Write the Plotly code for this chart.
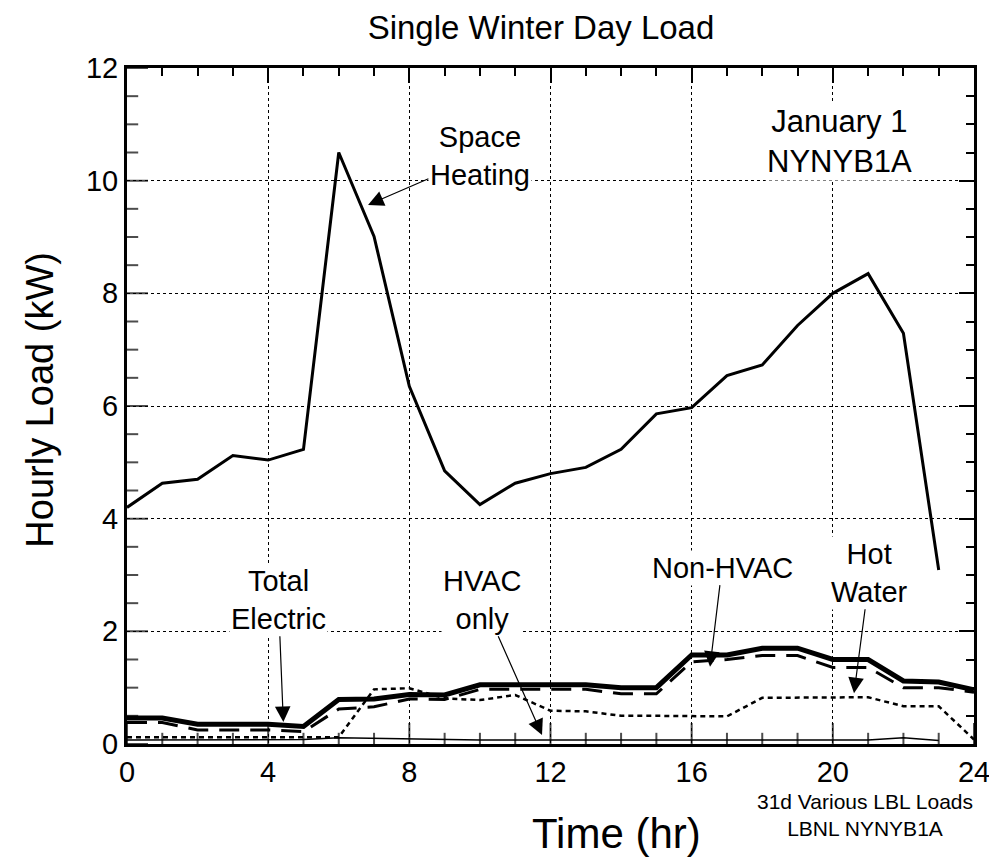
import plotly.graph_objects as go

hours = list(range(25))

space_heating = [4.20, 4.63, 4.70, 5.12, 5.04, 5.23, 10.50, 9.01, 6.35, 4.85, 4.25, 4.63,
                 4.80, 4.91, 5.23, 5.86, 5.97, 6.54, 6.73, 7.43, 8.00, 8.35, 7.29, 3.09]
total_electric = [0.46, 0.46, 0.35, 0.35, 0.35, 0.31, 0.79, 0.80, 0.88, 0.87, 1.05, 1.05,
                  1.05, 1.05, 1.00, 1.00, 1.58, 1.58, 1.70, 1.70, 1.50, 1.50, 1.12, 1.10, 0.96]
non_hvac = [0.38, 0.38, 0.25, 0.25, 0.25, 0.22, 0.62, 0.66, 0.80, 0.79, 0.97, 0.97,
            0.97, 0.97, 0.89, 0.89, 1.46, 1.50, 1.57, 1.57, 1.36, 1.36, 1.00, 1.00, 0.92]
hot_water = [0.12, 0.12, 0.12, 0.12, 0.12, 0.12, 0.12, 0.97, 0.99, 0.81, 0.78, 0.87,
             0.59, 0.58, 0.50, 0.50, 0.49, 0.49, 0.82, 0.82, 0.83, 0.83, 0.67, 0.67, 0.08]
hvac_only = [0.07, 0.07, 0.07, 0.07, 0.07, 0.08, 0.11, 0.10, 0.08, 0.07, 0.07, 0.07,
             0.07, 0.07, 0.07, 0.07, 0.07, 0.07, 0.07, 0.07, 0.07, 0.07, 0.11, 0.06]

x_ticks = [0, 4, 8, 12, 16, 20, 24]
y_ticks = [0, 2, 4, 6, 8, 10, 12]
x_minor = [h for h in range(0, 25) if h not in x_ticks]
y_minor = [v / 2 for v in range(0, 25) if v % 4 != 0]

FONT = "Liberation Sans, Arial, Helvetica, sans-serif"
TICK_COLOR = "black"

fig = go.Figure()
fig.add_trace(go.Scatter(x=hours[:len(hot_water)], y=hot_water, mode="lines",
                         line=dict(color="black", width=2.5, dash="5px,4px"), name="Hot Water"))
fig.add_trace(go.Scatter(x=hours[:len(hvac_only)], y=hvac_only, mode="lines",
                         line=dict(color="black", width=1.5), name="HVAC only"))
fig.add_trace(go.Scatter(x=hours[:len(non_hvac)], y=non_hvac, mode="lines",
                         line=dict(color="black", width=3, dash="20px,11px"), name="Non-HVAC"))
fig.add_trace(go.Scatter(x=hours[:len(total_electric)], y=total_electric, mode="lines",
                         line=dict(color="black", width=5), name="Total Electric"))
fig.add_trace(go.Scatter(x=hours[:len(space_heating)], y=space_heating, mode="lines",
                         line=dict(color="black", width=3), name="Space Heating"))
# invisible trace tying the tick-only axes (top / right) to the same scales
fig.add_trace(go.Scatter(x=hours[:len(space_heating)], y=space_heating, mode="lines",
                         line=dict(color="rgba(0,0,0,0)", width=0), xaxis="x2", yaxis="y2",
                         hoverinfo="skip", showlegend=False))

# bottom / left inside ticks: line markers centred on the axis edge, clipped to the plot area
bx = x_ticks + x_minor
fig.add_trace(go.Scatter(x=bx, y=[0] * len(bx), mode="markers", hoverinfo="skip", showlegend=False,
                         cliponaxis=True,
                         marker=dict(symbol="line-ns-open", color=TICK_COLOR,
                                     size=[30 if h in x_ticks else 16 for h in bx],
                                     line=dict(width=2, color=TICK_COLOR))))
ly = y_ticks + y_minor
fig.add_trace(go.Scatter(x=[0] * len(ly), y=ly, mode="markers", hoverinfo="skip", showlegend=False,
                         cliponaxis=True,
                         marker=dict(symbol="line-ew-open", color=TICK_COLOR,
                                     size=[30 if v in y_ticks else 16 for v in ly],
                                     line=dict(width=2, color=TICK_COLOR))))

def tick_axis(rng, vals, dtick):
    return dict(range=rng, tickvals=vals, showticklabels=False, showline=False, showgrid=False,
                zeroline=False, ticks="inside", ticklen=15, tickwidth=2, tickcolor=TICK_COLOR,
                minor=dict(dtick=dtick, ticks="inside", ticklen=8, tickwidth=2,
                           tickcolor=TICK_COLOR, showgrid=False))

fig.update_layout(
    xaxis=dict(range=[0, 24], tickvals=x_ticks, ticktext=[str(v) for v in x_ticks], ticks="",
               showline=True, linecolor="black", linewidth=3, mirror=True, zeroline=False,
               showgrid=True, gridcolor="black", gridwidth=1, griddash="dot",
               tickfont=dict(family=FONT, size=29, color="black")),
    yaxis=dict(range=[0, 12], tickvals=y_ticks, ticktext=[str(v) for v in y_ticks], ticks="",
               showline=True, linecolor="black", linewidth=3, mirror=True, zeroline=False,
               showgrid=True, gridcolor="black", gridwidth=1, griddash="dot",
               tickfont=dict(family=FONT, size=29, color="black")),
    xaxis2=dict(overlaying="x", side="top", **tick_axis([0, 24], x_ticks, 1)),
    yaxis2=dict(overlaying="y", side="right", **tick_axis([0, 12], y_ticks, 0.5)),
)

ann_font = dict(family=FONT, size=29, color="black")
arrow_style = dict(showarrow=True, arrowhead=2, arrowsize=2.6, arrowwidth=1.2, arrowcolor="black",
                   axref="x", ayref="y", bgcolor="white", font=ann_font, borderpad=1)

labels = [
    ("Space<br>Heating", 6.83, 9.57, 10.0, 10.43),
    ("Total<br>Electric", 4.43, 0.39, 4.29, 2.56),
    ("HVAC<br>only", 11.76, 0.16, 10.06, 2.56),
    ("Non-HVAC", 16.52, 1.37, 16.86, 3.13),
    ("Hot<br>Water", 20.6, 0.90, 21.05, 3.04),
]
for text, hx, hy, tx, ty in labels:
    fig.add_annotation(text=text, x=hx, y=hy, ax=tx, ay=ty, **arrow_style)

fig.add_annotation(text="January 1<br>NYNYB1A", x=20.2, y=10.7, showarrow=False,
                   bgcolor="white", font=dict(family=FONT, size=31, color="black"))

fig.add_annotation(text="Time (hr)", xref="paper", yref="paper", x=0.5785, y=-0.132,
                   xanchor="center", yanchor="middle",
                   showarrow=False, font=dict(family=FONT, size=42, color="black"))
fig.add_annotation(text="Hourly Load (kW)", xref="paper", yref="paper", x=-0.103, y=0.509,
                   xanchor="center", yanchor="middle",
                   textangle=-90, showarrow=False, font=dict(family=FONT, size=38, color="black"))
fig.add_annotation(text="31d Various LBL Loads<br>LBNL NYNYB1A", xref="paper", yref="paper",
                   x=0.871, y=-0.105, xanchor="center", yanchor="middle",
                   showarrow=False, font=dict(family=FONT, size=21, color="black"))

fig.update_layout(
    width=997, height=864,
    margin=dict(l=119, r=31, t=60, b=128),
    paper_bgcolor="white", plot_bgcolor="white",
    showlegend=False,
    title=dict(text="Single Winter Day Load", x=0.5346, xanchor="center", y=0.978, yanchor="middle",
               font=dict(family=FONT, size=33, color="black")),
)

fig.write_html("out.html")
